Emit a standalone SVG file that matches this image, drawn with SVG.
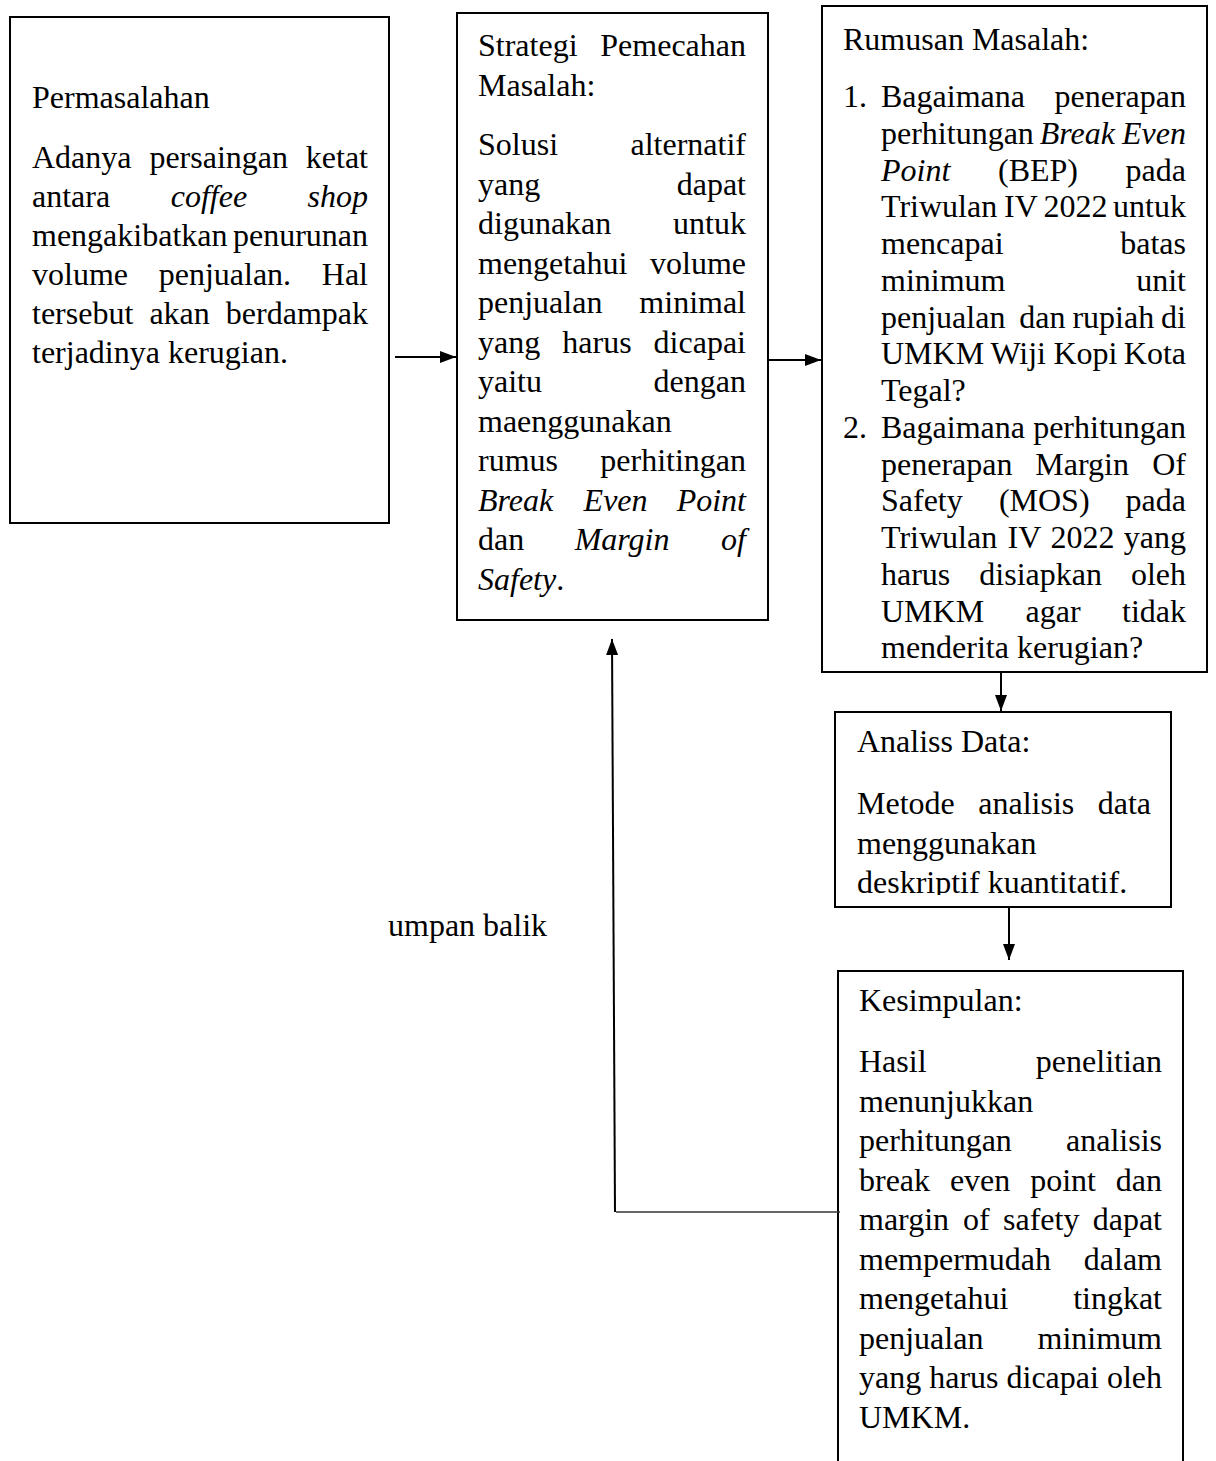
<svg xmlns="http://www.w3.org/2000/svg" width="1216" height="1461" viewBox="0 0 1216 1461">
<style>
text{font-family:"Liberation Serif","Times New Roman",serif;font-size:32px;fill:#000}
.e{text-anchor:end}
.i{font-style:italic}
.box{fill:none;stroke:#000;stroke-width:2}
.c{fill:none;stroke:#000;stroke-width:2}
</style>
<defs>
<marker id="ah" markerWidth="8" markerHeight="6" refX="8" refY="3" orient="auto">
<path d="M0,0 L8,3 L0,6 z" fill="#000"/>
</marker>
<clipPath id="clip4"><rect x="835" y="712" width="336" height="183"/></clipPath>
</defs>
<rect width="1216" height="1461" fill="#fff"/>

<g id="n1">
<rect class="box" x="10" y="17" width="379" height="506"/>
<text x="32" y="108">Permasalahan</text>
<text x="32" y="168">Adanya</text><text x="149.4" y="168">persaingan</text><text class="e" x="368" y="168">ketat</text>
<text x="32" y="207">antara</text><text class="i" x="170.7" y="207">coffee</text><text class="e i" x="368" y="207">shop</text>
<text x="32" y="246">mengakibatkan</text><text class="e" x="368" y="246">penurunan</text>
<text x="32" y="285">volume</text><text x="158.7" y="285">penjualan.</text><text class="e" x="368" y="285">Hal</text>
<text x="32" y="324">tersebut</text><text x="149.4" y="324">akan</text><text class="e" x="368" y="324">berdampak</text>
<text x="32" y="363">terjadinya kerugian.</text>
</g>

<g id="n2">
<rect class="box" x="457" y="13" width="311" height="607"/>
<text x="478" y="56">Strategi</text><text class="e" x="746" y="56">Pemecahan</text>
<text x="478" y="95.5">Masalah:</text>
<text x="478" y="155">Solusi</text><text class="e" x="746" y="155">alternatif</text>
<text x="478" y="194.5">yang</text><text class="e" x="746" y="194.5">dapat</text>
<text x="478" y="234">digunakan</text><text class="e" x="746" y="234">untuk</text>
<text x="478" y="273.5">mengetahui</text><text class="e" x="746" y="273.5">volume</text>
<text x="478" y="313">penjualan</text><text class="e" x="746" y="313">minimal</text>
<text x="478" y="352.5">yang</text><text x="562.3" y="352.5">harus</text><text class="e" x="746" y="352.5">dicapai</text>
<text x="478" y="392">yaitu</text><text class="e" x="746" y="392">dengan</text>
<text x="478" y="431.5">maenggunakan</text>
<text x="478" y="471">rumus</text><text class="e" x="746" y="471">perhitingan</text>
<text class="i" x="478" y="510.5">Break</text><text class="i" x="583.6" y="510.5">Even</text><text class="e i" x="746" y="510.5">Point</text>
<text x="478" y="550">dan</text><text class="i" x="574.7" y="550">Margin</text><text class="e i" x="746" y="550">of</text>
<text x="478" y="589.5"><tspan class="i">Safety</tspan>.</text>
</g>

<g id="n3">
<rect class="box" x="822" y="6" width="385" height="666"/>
<text x="843" y="50">Rumusan Masalah:</text>
<text x="843" y="107">1.</text><text x="881" y="107">Bagaimana</text><text class="e" x="1186" y="107">penerapan</text>
<text x="881" y="143.75">perhitungan</text><text class="i" x="1039.8" y="143.75">Break</text><text class="e i" x="1186" y="143.75">Even</text>
<text class="i" x="881" y="180.5">Point</text><text x="998" y="180.5">(BEP)</text><text class="e" x="1186" y="180.5">pada</text>
<text x="881" y="217.25">Triwulan</text><text x="1004" y="217.25">IV</text><text x="1043.4" y="217.25">2022</text><text class="e" x="1186" y="217.25">untuk</text>
<text x="881" y="254">mencapai</text><text class="e" x="1186" y="254">batas</text>
<text x="881" y="290.75">minimum</text><text class="e" x="1186" y="290.75">unit</text>
<text x="881" y="327.5">penjualan</text><text x="1019.3" y="327.5">dan</text><text x="1072.4" y="327.5">rupiah</text><text class="e" x="1186" y="327.5">di</text>
<text x="881" y="364.25">UMKM</text><text x="990.4" y="364.25">Wiji</text><text x="1053.5" y="364.25">Kopi</text><text class="e" x="1186" y="364.25">Kota</text>
<text x="881" y="401">Tegal?</text>
<text x="843" y="437.75">2.</text><text x="881" y="437.75">Bagaimana</text><text class="e" x="1186" y="437.75">perhitungan</text>
<text x="881" y="474.5">penerapan</text><text x="1035.3" y="474.5">Margin</text><text class="e" x="1186" y="474.5">Of</text>
<text x="881" y="511.25">Safety</text><text x="998.9" y="511.25">(MOS)</text><text class="e" x="1186" y="511.25">pada</text>
<text x="881" y="548">Triwulan</text><text x="1007.5" y="548">IV</text><text x="1050.6" y="548">2022</text><text class="e" x="1186" y="548">yang</text>
<text x="881" y="584.75">harus</text><text x="979.3" y="584.75">disiapkan</text><text class="e" x="1186" y="584.75">oleh</text>
<text x="881" y="621.5">UMKM</text><text x="1025.5" y="621.5">agar</text><text class="e" x="1186" y="621.5">tidak</text>
<text x="881" y="658.25">menderita kerugian?</text>
</g>

<g id="n4">
<rect class="box" x="835" y="712" width="336" height="195"/>
<g clip-path="url(#clip4)">
<text x="857" y="752">Analiss Data:</text>
<text x="857" y="814">Metode</text><text x="978.3" y="814">analisis</text><text class="e" x="1151" y="814">data</text>
<text x="857" y="853.5">menggunakan</text>
<text x="857" y="893">deskriptif kuantitatif.</text>
</g>
</g>

<g id="n5">
<rect class="box" x="838" y="971" width="345" height="520"/>
<text x="859" y="1011">Kesimpulan:</text>
<text x="859" y="1072">Hasil</text><text class="e" x="1162" y="1072">penelitian</text>
<text x="859" y="1111.5">menunjukkan</text>
<text x="859" y="1151">perhitungan</text><text class="e" x="1162" y="1151">analisis</text>
<text x="859" y="1190.5">break</text><text x="949.9" y="1190.5">even</text><text x="1030.2" y="1190.5">point</text><text class="e" x="1162" y="1190.5">dan</text>
<text x="859" y="1230">margin</text><text x="963" y="1230">of</text><text x="1003" y="1230">safety</text><text class="e" x="1162" y="1230">dapat</text>
<text x="859" y="1269.5">mempermudah</text><text class="e" x="1162" y="1269.5">dalam</text>
<text x="859" y="1309">mengetahui</text><text class="e" x="1162" y="1309">tingkat</text>
<text x="859" y="1348.5">penjualan</text><text class="e" x="1162" y="1348.5">minimum</text>
<text x="859" y="1388">yang</text><text x="929.2" y="1388">harus</text><text x="1006.5" y="1388">dicapai</text><text class="e" x="1162" y="1388">oleh</text>
<text x="859" y="1427.5">UMKM.</text>
</g>

<g id="label-umpan-balik">
<text x="388" y="936">umpan balik</text>
</g>

<g id="connectors">
<line class="c" x1="395" y1="357" x2="456" y2="357" marker-end="url(#ah)"/>
<line class="c" x1="769" y1="360" x2="821" y2="360" marker-end="url(#ah)"/>
<line class="c" x1="1001" y1="673" x2="1001" y2="711" marker-end="url(#ah)"/>
<line class="c" x1="1009" y1="908" x2="1009" y2="960" marker-end="url(#ah)"/>
<line x1="616" y1="1212" x2="840" y2="1212" stroke="#333" stroke-width="1.5"/>
<line class="c" x1="615" y1="1212" x2="612" y2="639" marker-end="url(#ah)"/>
</g>
</svg>
